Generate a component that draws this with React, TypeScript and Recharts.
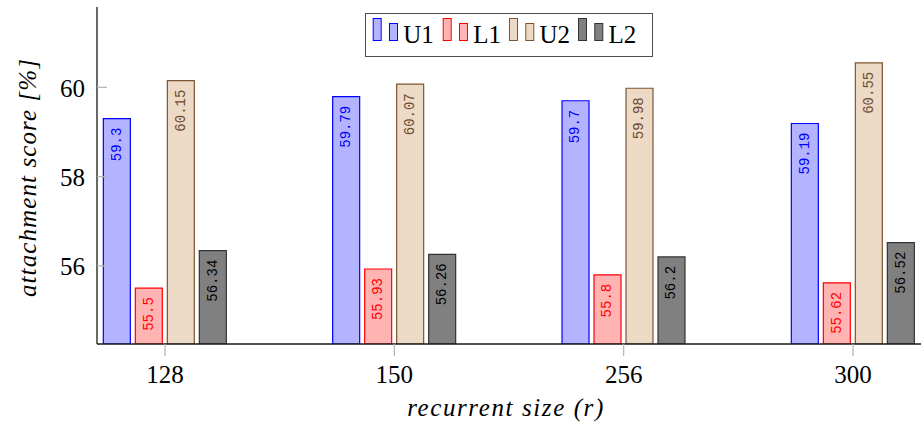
import React from 'react';
import { BarChart, Bar, XAxis, YAxis, Legend, LabelList } from 'recharts';

const categories = ['128', '150', '256', '300'];
const u1Values = [59.3, 59.79, 59.7, 59.19];
const l1Values = [55.5, 55.93, 55.8, 55.62];
const u2Values = [60.15, 60.07, 59.98, 60.55];
const l2Values = [56.34, 56.26, 56.2, 56.52];
const yTicks = [56, 58, 60];
const xTicks = [0, 1, 2, 3];

const series = [
  { key: 'U1', fill: '#b3b3ff', stroke: '#0000ff', text: '#0000ff' },
  { key: 'L1', fill: '#ffb3b3', stroke: '#ff0000', text: '#ff0000' },
  { key: 'U2', fill: '#ecd9c6', stroke: '#7d5530', text: '#6b4a2c' },
  { key: 'L2', fill: '#808080', stroke: '#333333', text: '#000000' },
];

const data = categories.map((c, i) => ({
  idx: i,
  label: c,
  U1: u1Values[i],
  L1: l1Values[i],
  U2: u2Values[i],
  L2: l2Values[i],
}));

const SERIF = '"Liberation Serif", "DejaVu Serif", serif';
const MONO = '"Liberation Mono", "DejaVu Sans Mono", monospace';

const makeValueLabel = (color: string) => (props: any) => {
  const { x, y, width, value } = props;
  const cx = Number(x) + Number(width) / 2;
  const cy = Number(y) + 9;
  return (
    <text
      x={cx}
      y={cy}
      transform={`rotate(-90 ${cx} ${cy})`}
      textAnchor="end"
      dominantBaseline="central"
      fill={color}
      style={{ fontFamily: MONO, fontSize: 14 }}
    >
      {String(value)}
    </text>
  );
};

const XTick = (props: any) => {
  const { x, y, payload } = props;
  return (
    <g>
      <line x1={x} x2={x} y1={y} y2={y + 12} stroke="#b3b3b3" strokeWidth={1.2} />
      <text x={x} y={y + 39} textAnchor="middle" fill="#000" style={{ fontFamily: SERIF, fontSize: 25 }}>
        {categories[payload.value]}
      </text>
    </g>
  );
};

const YTick = (props: any) => {
  const { x, y, payload } = props;
  return (
    <g>
      <line x1={x} x2={x + 10} y1={y} y2={y} stroke="#b3b3b3" strokeWidth={1.2} />
      <text x={x - 12} y={y + 9.5} textAnchor="end" fill="#000" style={{ fontFamily: SERIF, fontSize: 25 }}>
        {payload.value}
      </text>
    </g>
  );
};

const legendStarts = [7.7, 77.7, 144, 213];

const LegendBox = () => (
  <svg width={288} height={44} style={{ display: 'block' }}>
    <rect x={0.5} y={0.5} width={287} height={43} fill="#fff" stroke="#4d4d4d" strokeWidth={1} />
    {series.map((s, i) => {
      const x0 = legendStarts[i];
      return (
        <g key={s.key}>
          <rect x={x0 + 0.5} y={5.5} width={8} height={22} fill={s.fill} stroke={s.stroke} strokeWidth={1} />
          <rect x={x0 + 16.8} y={10.5} width={8} height={17} fill={s.fill} stroke={s.stroke} strokeWidth={1} />
          <text x={x0 + 30.5} y={29.5} fill="#000" style={{ fontFamily: SERIF, fontSize: 25 }}>
            {s.key}
          </text>
        </g>
      );
    })}
  </svg>
);

export default function App() {
  return (
    <div style={{ position: 'absolute', left: 0, top: 0, width: 921, height: 429, background: '#fff' }}>
      <BarChart
        width={921}
        height={429}
        data={data}
        margin={{ top: 7, right: 0, bottom: 0, left: 0 }}
        barSize={27}
        barGap={5}
      >
        <XAxis
          dataKey="idx"
          type="number"
          domain={[-0.2965, 3.2965]}
          ticks={xTicks}
          allowDataOverflow
          height={85}
          tickSize={0}
          tickMargin={0}
          tickLine={false}
          axisLine={{ stroke: '#1a1a1a', strokeWidth: 1.3 }}
          tick={<XTick />}
          interval={0}
          label={{
            content: (p: any) => {
              const vb = p.viewBox || { x: 97, width: 824 };
              return (
                <text
                  x={vb.x + vb.width / 2 - 3}
                  y={416}
                  textAnchor="middle"
                  fill="#000"
                  style={{ fontFamily: SERIF, fontSize: 25, fontStyle: 'italic', letterSpacing: 1.6 }}
                >
                  recurrent size (r)
                </text>
              );
            },
          }}
        />
        <YAxis
          type="number"
          domain={[54.25, 61.8]}
          ticks={yTicks}
          allowDataOverflow
          width={97}
          tickSize={0}
          tickMargin={0}
          tickLine={false}
          axisLine={{ stroke: '#1a1a1a', strokeWidth: 1.3 }}
          tick={<YTick />}
          interval={0}
          label={{
            content: (p: any) => {
              const vb = p.viewBox || { y: 7, height: 337 };
              const cx = 36;
              const cy = vb.y + vb.height / 2 + 2;
              return (
                <text
                  x={cx}
                  y={cy}
                  transform={`rotate(-90 ${cx} ${cy})`}
                  textAnchor="middle"
                  fill="#000"
                  style={{ fontFamily: SERIF, fontSize: 25, fontStyle: 'italic', letterSpacing: 1.1 }}
                >
                  attachment score [%]
                </text>
              );
            },
          }}
        />
        <Legend
          verticalAlign="middle"
          align="center"
          layout="horizontal"
          wrapperStyle={{ top: 13, left: 365, width: 288, height: 44 }}
          content={() => <LegendBox />}
        />
        {series.map((s) => (
          <Bar
            key={s.key}
            dataKey={s.key}
            fill={s.fill}
            stroke={s.stroke}
            strokeWidth={1.2}
            isAnimationActive={false}
          >
            <LabelList dataKey={s.key} content={makeValueLabel(s.text)} />
          </Bar>
        ))}
      </BarChart>
    </div>
  );
}
